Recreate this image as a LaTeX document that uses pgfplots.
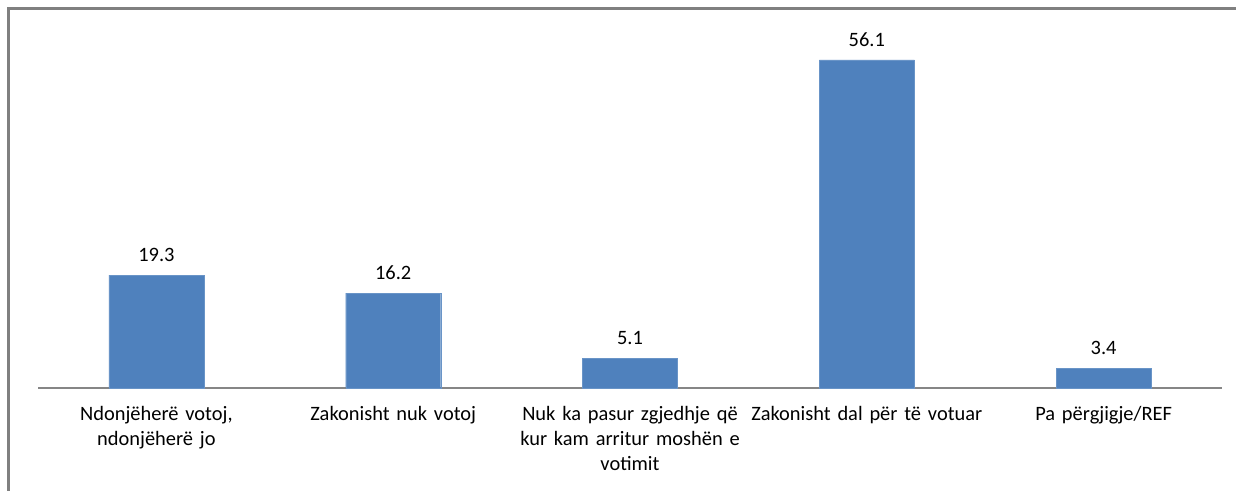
\documentclass[border=0pt]{standalone}
\usepackage{pgfplots}
\pgfplotsset{compat=1.18}
\usepackage{fontspec}
\setmainfont{Carlito}
\definecolor{barblue}{HTML}{4F81BD}
\definecolor{axgray}{HTML}{868686}
\definecolor{framegray}{HTML}{808080}
\begin{document}
\begin{tikzpicture}[x=1bp,y=1bp]
\useasboundingbox (0,0) rectangle (1236,491);
\draw[framegray, line width=2.5bp] (8.5,0) -- (8.5,482.5) -- (1236,482.5);
\begin{axis}[
  at={(38bp,103bp)}, anchor=south west,
  scale only axis, width=1184bp, height=351bp,
  xmin=-0.5, xmax=4.5, ymin=0, ymax=60,
  axis y line=none, axis x line*=bottom,
  x axis line style={axgray, line width=1.2bp},
  ytick=\empty,
  xtick={0,1,2,3,4},
  xticklabels={{Ndonjëherë votoj,\\ndonjëherë jo},{Zakonisht nuk votoj},{Nuk ka pasur zgjedhje që\\kur kam arritur moshën e\\votimit},{Zakonisht dal për të votuar},{Pa përgjigje/REF}},
  xtick style={draw=none},
  xticklabel style={align=center, font=\fontsize{20.5}{25}\selectfont, text width=250bp, yshift=-11bp},
  ybar, bar width=95bp,
  nodes near coords,
  nodes near coords style={font=\fontsize{20.5}{24}\selectfont, yshift=10bp, /pgf/number format/assume math mode=true, /pgf/number format/fixed, /pgf/number format/precision=1, /pgf/number format/fixed zerofill},
  clip=false,
]
\addplot[fill=barblue, draw=barblue!85!white] coordinates {(0,19.3) (1,16.2) (2,5.1) (3,56.1) (4,3.4)};
\end{axis}
\end{tikzpicture}
\end{document}
